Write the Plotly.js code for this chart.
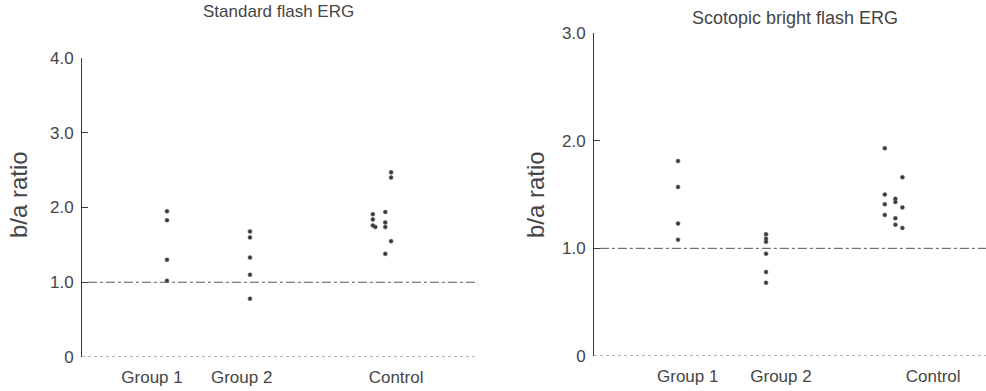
<!DOCTYPE html>
<html>
<head>
<meta charset="utf-8">
<script src="https://cdn.plot.ly/plotly-3.0.1.min.js"></script>
<style>html,body{margin:0;padding:0;background:#fff;}#chart{width:986px;height:391px;}</style>
</head>
<body>
<div id="chart"></div>
<script>
// ---- Data (b/a ratio) ----
var groupLabels = ["Group 1", "Group 2", "Control"];

// Standard flash ERG
var stdGroup1 = [1.95, 1.83, 1.30, 1.02];
var stdGroup1X = [1, 1, 1, 1];
var stdGroup2 = [1.68, 1.60, 1.33, 1.10, 0.78];
var stdGroup2X = [2, 2, 2, 2, 2];
var stdControl = [1.91, 1.84, 1.76, 1.74, 1.94, 1.80, 1.74, 1.38, 2.47, 2.40, 1.55];
var stdControlX = [3.48, 3.48, 3.48, 3.51, 3.63, 3.63, 3.63, 3.63, 3.70, 3.70, 3.70];

// Scotopic bright flash ERG
var scoGroup1 = [1.81, 1.57, 1.23, 1.08];
var scoGroup1X = [1, 1, 1, 1];
var scoGroup2 = [1.13, 1.09, 1.06, 0.95, 0.78, 0.68];
var scoGroup2X = [2, 2, 2, 2, 2, 2];
var scoControl = [1.93, 1.50, 1.41, 1.31, 1.46, 1.43, 1.28, 1.22, 1.66, 1.38, 1.19];
var scoControlX = [3.35, 3.35, 3.35, 3.35, 3.47, 3.47, 3.47, 3.47, 3.55, 3.55, 3.55];

var stdTickVals = [0.82, 1.90, 3.76];
var scoTickVals = [1.11, 2.17, 3.90];
var refValue = 1.0;

// ---- Styling ----
var FONT = "Liberation Sans, Arial, Helvetica, sans-serif";
var TXT = "#454545";
var W = 986, H = 391;
function px(x){ return x / W; }
function py(y){ return 1 - y / H; }

var marker = {size: 4, color: "#3a3a3a", line: {width: 0.6, color: "#666"}};

function pts(x, y, xa, ya){
  return {x: x, y: y, xaxis: xa, yaxis: ya, type: "scatter", mode: "markers",
          marker: marker, hoverinfo: "y", showlegend: false};
}

var data = [
  pts(stdGroup1X, stdGroup1, "x", "y"),
  pts(stdGroup2X, stdGroup2, "x", "y"),
  pts(stdControlX, stdControl, "x", "y"),
  pts(scoGroup1X, scoGroup1, "x2", "y2"),
  pts(scoGroup2X, scoGroup2, "x2", "y2"),
  pts(scoControlX, scoControl, "x2", "y2")
];

var xCommon = {
  showgrid: false, zeroline: false, showline: false, ticks: "",
  tickmode: "array", ticktext: groupLabels,
  tickfont: {family: FONT, size: 17, color: TXT},
  ticklabelstandoff: 8, fixedrange: true
};
var yCommon = {
  showgrid: false, zeroline: false, showline: true, linecolor: "#3a3a3a", linewidth: 1,
  ticks: "inside", ticklen: 6, tickcolor: "#3a3a3a", tickwidth: 1,
  tickmode: "array",
  tickfont: {family: FONT, size: 17, color: TXT},
  ticklabelstandoff: 4, fixedrange: true
};

var layout = {
  width: W, height: H,
  margin: {l: 0, r: 0, t: 0, b: 0},
  paper_bgcolor: "#ffffff", plot_bgcolor: "#ffffff",
  showlegend: false,
  xaxis: Object.assign({}, xCommon, {domain: [px(82), px(478)], range: [-0.024, 4.747],
          tickvals: stdTickVals, anchor: "y"}),
  yaxis: Object.assign({}, yCommon, {domain: [py(357), py(58)], range: [0, 4],
          tickvals: [0, 1, 2, 3, 4], ticktext: ["0", "1.0", "2.0", "3.0", "4.0"], anchor: "x"}),
  xaxis2: Object.assign({}, xCommon, {domain: [px(594), px(986)], range: [0.045, 4.5],
          tickvals: scoTickVals, anchor: "y2"}),
  yaxis2: Object.assign({}, yCommon, {domain: [py(356), py(33)], range: [0, 3],
          tickvals: [0, 1, 2, 3], ticktext: ["0", "1.0", "2.0", "3.0"], anchor: "x2"}),
  shapes: [
    // dotted baselines
    {type: "line", xref: "x domain", yref: "y", x0: 0, x1: 1, y0: 0, y1: 0,
     line: {color: "#666", width: 1, dash: "dot"}},
    {type: "line", xref: "x2 domain", yref: "y2", x0: 0, x1: 1, y0: 0, y1: 0,
     line: {color: "#666", width: 1, dash: "dot"}},
    // reference lines at ratio 1.0
    {type: "line", xref: "x domain", yref: "y", x0: 0.015, x1: 1, y0: refValue, y1: refValue,
     line: {color: "#555", width: 1, dash: "dashdot"}},
    {type: "line", xref: "x2 domain", yref: "y2", x0: 0.015, x1: 1, y0: refValue, y1: refValue,
     line: {color: "#555", width: 1, dash: "dashdot"}}
  ],
  annotations: [
    {text: "Standard flash ERG", xref: "paper", yref: "paper", x: px(278), y: py(11),
     xanchor: "center", yanchor: "middle", showarrow: false,
     font: {family: FONT, size: 17, color: TXT}},
    {text: "Scotopic bright flash ERG", xref: "paper", yref: "paper", x: px(795), y: py(18),
     xanchor: "center", yanchor: "middle", showarrow: false,
     font: {family: FONT, size: 18, color: TXT}},
    {text: "b/a ratio", xref: "paper", yref: "paper", x: px(18), y: py(195),
     xanchor: "center", yanchor: "middle", showarrow: false, textangle: -90,
     font: {family: FONT, size: 24, color: TXT}},
    {text: "b/a ratio", xref: "paper", yref: "paper", x: px(535), y: py(195),
     xanchor: "center", yanchor: "middle", showarrow: false, textangle: -90,
     font: {family: FONT, size: 24, color: TXT}}
  ]
};

Plotly.newPlot("chart", data, layout, {displayModeBar: false, staticPlot: true});
</script>
</body>
</html>
